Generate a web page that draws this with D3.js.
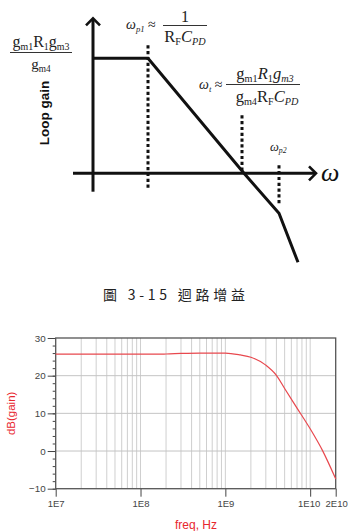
<!DOCTYPE html>
<html>
<head>
<meta charset="utf-8">
<script src="https://cdn.jsdelivr.net/npm/d3@7"></script>
<style>
  body { margin: 0; background: #fff; }
  svg { display: block; }
</style>
</head>
<body>
<svg id="chart" width="349" height="531"></svg>
<script>
// --- schematic bode sketch (top) ---
const sketchAsymptote = [[0, 5.75], [2.75, 5.75], [7.55, 0], [9.3, -2.0], [10.25, -4.45]];
const sketchMarkers = [
  {name: "p1", x: 2.75, y0: 6.4, y1: -0.85},
  {name: "t", x: 7.45, y0: 2.9, y1: 0},
  {name: "p2", x: 9.3, y0: 0.4, y1: -1.6}
];

// --- simulated loop gain (bottom) ---
const freqs = [1e7, 1e8, 2e8, 3e8, 5e8, 1e9, 1.5e9, 2e9, 3e9, 4e9, 5e9, 7e9, 1e10, 1.4e10, 2e10];
const gainDb = [25.7, 25.7, 25.75, 25.9, 26.0, 26.0, 25.5, 24.9, 22.8, 20.1, 16.6, 11.4, 5.9, 0.1, -7.4];
const yTicks = [-10, 0, 10, 20, 30];
const xTicks = [1e7, 1e8, 1e9, 1e10, 2e10];
const xTickLabels = ["1E7", "1E8", "1E9", "1E10", "2E10"];

const svg = d3.select("#chart");
const serif = "'Liberation Serif', 'DejaVu Serif', serif";
const sans = "'Liberation Sans', Arial, sans-serif";

// ================= top sketch =================
const sx = d3.scaleLinear().domain([0, 10]).range([93, 293]);
const sy = d3.scaleLinear().domain([0, 5]).range([173.3, 73.3]);

const sketchG = svg.append("g").attr("class", "sketch");

// axes with arrows
const arrowHead = (x, y, dir) => {
  // dir: "up" or "right"
  const s = 7;
  const pts = dir === "up"
    ? [[x - s, y + s], [x, y], [x + s, y + s]]
    : [[x - s, y - s], [x, y], [x - s, y + s]];
  sketchG.append("path").attr("d", d3.line()(pts))
    .attr("fill", "none").attr("stroke", "#111").attr("stroke-width", 2.6)
    .attr("stroke-linejoin", "miter");
};

sketchG.append("line")
  .attr("x1", sx(0)).attr("x2", sx(0))
  .attr("y1", sy(-0.92)).attr("y2", sy(7.7))
  .attr("stroke", "#111").attr("stroke-width", 3);
arrowHead(sx(0), sy(7.7) - 1, "up");

sketchG.append("line")
  .attr("x1", sx(-1)).attr("x2", sx(11.1))
  .attr("y1", sy(0)).attr("y2", sy(0))
  .attr("stroke", "#111").attr("stroke-width", 3);
arrowHead(sx(11.1) + 1, sy(0), "right");

// dotted markers
sketchG.selectAll("line.marker").data(sketchMarkers).enter()
  .append("line")
  .attr("class", "marker")
  .attr("x1", d => sx(d.x)).attr("x2", d => sx(d.x))
  .attr("y1", d => sy(d.y0)).attr("y2", d => sy(d.y1))
  .attr("stroke", "#111").attr("stroke-width", 3)
  .attr("stroke-dasharray", "3.2,2.6");

// asymptotic gain
sketchG.append("path")
  .attr("d", d3.line().x(d => sx(d[0])).y(d => sy(d[1]))(sketchAsymptote))
  .attr("fill", "none").attr("stroke", "#111").attr("stroke-width", 3)
  .attr("stroke-linejoin", "miter");

// omega axis label
sketchG.append("text")
  .attr("x", 321).attr("y", 181)
  .attr("font-family", serif).attr("font-style", "italic")
  .attr("font-size", 26).attr("fill", "#111")
  .text("ω");

// Loop gain label
sketchG.append("text")
  .attr("transform", "translate(49,113) rotate(-90)")
  .attr("text-anchor", "middle")
  .attr("font-family", sans).attr("font-weight", "bold")
  .attr("font-size", 13.5).attr("fill", "#111")
  .text("Loop gain");

// helper for math text with subscripts: parts = [[text, sub?, italic?]]
const mathText = (x, y, parts, size, anchor) => {
  const t = sketchG.append("text")
    .attr("x", x).attr("y", y)
    .attr("font-family", serif).attr("font-size", size)
    .attr("fill", "#222")
    .attr("text-anchor", anchor || "start");
  parts.forEach(p => {
    const ts = t.append("tspan").text(p[0]);
    if (p[2]) ts.attr("font-style", "italic");
    if (p[1]) ts.attr("font-size", size * 0.62).attr("baseline-shift", "-30%");
  });
  return t;
};

const fracBar = (x1, x2, y) => {
  sketchG.append("line").attr("x1", x1).attr("x2", x2).attr("y1", y).attr("y2", y)
    .attr("stroke", "#333").attr("stroke-width", 1);
};

// left plateau value
mathText(41, 47, [["g", 0], ["m1", 1], ["R", 0], ["1", 1], ["g", 0], ["m3", 1]], 16, "middle");
fracBar(10, 72, 52.5);
mathText(41, 69, [["g", 0], ["m4", 1]], 15, "middle");

// omega p1
mathText(126, 29, [["ω", 0, 1], ["p1", 1, 1], [" ≈", 0]], 14);
mathText(185, 22, [["1", 0]], 16, "middle");
fracBar(163, 207, 25.5);
mathText(185, 42, [["R", 0], ["F", 1], ["C", 0, 1], ["PD", 1, 1]], 16.5, "middle");

// omega t
mathText(199, 89, [["ω", 0, 1], ["t", 1, 1], [" ≈", 0]], 14);
mathText(265, 79, [["g", 0], ["m1", 1], ["R", 0, 1], ["1", 1], ["g", 0, 1], ["m3", 1, 1]], 16.5, "middle");
fracBar(226, 300, 84.5);
mathText(267, 102, [["g", 0], ["m4", 1], ["R", 0], ["F", 1], ["C", 0, 1], ["PD", 1, 1]], 16.5, "middle");

// omega p2
mathText(270, 151, [["ω", 0, 1], ["p2", 1, 1]], 12.5);

// caption
svg.append("text")
  .attr("x", 103).attr("y", 300)
  .attr("font-family", "'Noto Sans CJK TC', sans-serif")
  .attr("font-size", 14).attr("fill", "#222")
  .attr("textLength", 142).attr("lengthAdjust", "spacing")
  .text("圖 3-15 迴路增益");

// ================= bottom chart =================
const left = 55.7, right = 335.7, ptop = 338, pbottom = 488.7;
const x = d3.scaleLog().domain([1e7, 2e10]).range([left, right]);
const y = d3.scaleLinear().domain([-10, 30]).range([pbottom, ptop]);

const plot = svg.append("g").attr("class", "plot");

// vertical grid at each 1..9 x decade
const gridFreqs = [];
for (let e = 7; e <= 10; e++) {
  for (let m = 1; m <= 9; m++) {
    const f = m * Math.pow(10, e);
    if (f > 1e7 && f < 2e10) gridFreqs.push(f);
  }
}
plot.selectAll("line.vgrid").data(gridFreqs).enter()
  .append("line").attr("class", "vgrid")
  .attr("x1", d => x(d)).attr("x2", d => x(d))
  .attr("y1", ptop).attr("y2", pbottom)
  .attr("stroke", "#cfcfcf").attr("stroke-width", 1);

plot.selectAll("line.hgrid").data(yTicks.filter(v => v > -10 && v < 30)).enter()
  .append("line").attr("class", "hgrid")
  .attr("x1", left).attr("x2", right)
  .attr("y1", d => y(d)).attr("y2", d => y(d))
  .attr("stroke", "#c4c4c4").attr("stroke-width", 1);

// y axis with minor ticks
const yAxis = d3.axisLeft(y).tickValues(yTicks).tickSize(8).tickPadding(2);
const yMinor = d3.axisLeft(y).tickValues(d3.range(-10, 31, 2)).tickSize(3).tickFormat("");
plot.append("g").attr("transform", `translate(${left},0)`).call(yMinor)
  .call(g => g.select(".domain").remove())
  .call(g => g.selectAll("line").attr("stroke", "#444"));
plot.append("g").attr("transform", `translate(${left},0)`).call(yAxis)
  .call(g => g.select(".domain").remove())
  .call(g => g.selectAll("line").attr("stroke", "#444"))
  .call(g => g.selectAll("text").attr("font-family", sans).attr("font-size", 9.8).attr("fill", "#444"));

const xAxis = d3.axisBottom(x).tickValues(xTicks).tickSize(8).tickPadding(4)
  .tickFormat((d, i) => xTickLabels[i]);
plot.append("g").attr("transform", `translate(0,${pbottom})`).call(xAxis)
  .call(g => g.select(".domain").remove())
  .call(g => g.selectAll("line").attr("stroke", "#444"))
  .call(g => g.selectAll("text").attr("font-family", sans).attr("font-size", 9.5).attr("fill", "#444"))
  .call(g => g.selectAll(".tick").filter((d, i) => i === 3).select("text").attr("dx", -1.5))
  .call(g => g.selectAll(".tick").filter((d, i) => i === 4).select("text")
    .attr("text-anchor", "end").attr("x", 11.5));

// frame
plot.append("rect")
  .attr("x", left).attr("y", ptop)
  .attr("width", right - left).attr("height", pbottom - ptop)
  .attr("fill", "none").attr("stroke", "#555").attr("stroke-width", 1.3);

// gain curve
const pts = freqs.map((f, i) => [f, gainDb[i]]);
plot.append("path")
  .attr("d", d3.line().x(d => x(d[0])).y(d => y(d[1])).curve(d3.curveMonotoneX)(pts))
  .attr("fill", "none").attr("stroke", "#e8484e").attr("stroke-width", 1.2);

// axis titles
plot.append("text")
  .attr("transform", `translate(15,${(ptop + pbottom) / 2}) rotate(-90)`)
  .attr("text-anchor", "middle")
  .attr("font-family", sans).attr("font-size", 11.5).attr("fill", "#e8262e")
  .text("dB(gain)");

plot.append("text")
  .attr("x", 196).attr("y", 529)
  .attr("text-anchor", "middle")
  .attr("font-family", sans).attr("font-size", 12).attr("fill", "#e8262e")
  .text("freq, Hz");
</script>
</body>
</html>
